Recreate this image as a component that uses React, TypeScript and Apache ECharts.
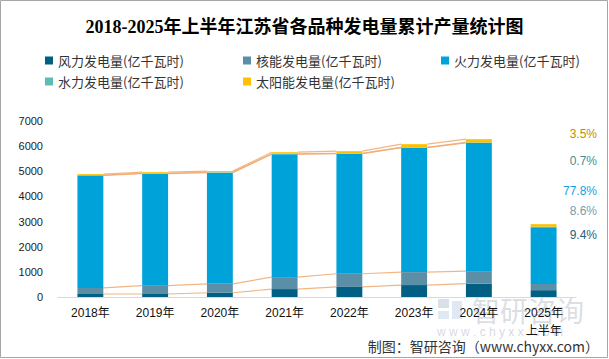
import React, { useEffect, useRef } from "react";
import * as echarts from "echarts";

const categories = ["2018年", "2019年", "2020年", "2021年", "2022年", "2023年", "2024年", "2025年\n上半年"];
const seriesNames = [
  "风力发电量(亿千瓦时)",
  "核能发电量(亿千瓦时)",
  "火力发电量(亿千瓦时)",
  "水力发电量(亿千瓦时)",
  "太阳能发电量(亿千瓦时)",
];
const wind = [120, 120, 170, 315, 400, 475, 530, 272];
const nuclear = [240, 330, 355, 475, 525, 515, 500, 249];
const thermal = [4472, 4456, 4421, 4890, 4775, 4949, 5102, 2255];
const hydro = [15, 15, 15, 15, 15, 15, 15, 20];
const solar = [40, 45, 45, 65, 85, 125, 130, 101];
const yMin = 0;
const yMax = 7000;
const yInterval = 1000;

const colors = ["#005F83", "#5B8FA8", "#00A2DA", "#5BBDB4", "#FFC000"];
const pctColors = ["#1F5F80", "#7A9CAE", "#1A9FDA", "#3F8F96", "#BF8F00"];
const pctY = [235, 211, 191, 161, 134];

export default function App() {
  const ref = useRef<HTMLDivElement>(null);
  useEffect(() => {
    if (!ref.current) return;
    const chart = echarts.init(ref.current, undefined, { renderer: "svg" });
    const layers = [wind, nuclear, thermal, hydro, solar];
    const cum: number[][] = [];
    layers.forEach((arr, k) => {
      cum.push(arr.map((v, i) => v + (k > 0 ? cum[k - 1][i] : 0)));
    });
    const lineData: number[][] = [];
    cum.forEach((c) => {
      for (let i = 0; i < categories.length - 2; i++) lineData.push([i, c[i], c[i + 1]]);
    });
    const last = categories.length - 1;
    const total = layers.reduce((s, a) => s + a[last], 0);
    const pctTexts = layers.map((a, k) => ({
      type: "text",
      x: 597,
      y: pctY[k],
      style: {
        text: ((a[last] / total) * 100).toFixed(1) + "%",
        fill: pctColors[k],
        font: "12px 'Liberation Sans', sans-serif",
        textAlign: "right",
        textVerticalAlign: "middle",
      },
    }));
    const legendBase = {
      orient: "vertical",
      itemWidth: 8,
      itemHeight: 8,
      itemGap: 8,
      icon: "rect",
      textStyle: { fontSize: 13, color: "#333", fontFamily: "'Noto Sans CJK SC', sans-serif" },
      top: 49,
    };
    chart.setOption({
      animation: false,
      backgroundColor: "#fff",
      title: {
        text: "2018-2025年上半年江苏省各品种发电量累计产量统计图",
        left: "center",
        top: 13,
        textStyle: { fontSize: 18, fontWeight: "bold", color: "#000", fontFamily: "'Liberation Serif', 'Noto Sans CJK SC', serif" },
      },
      legend: [
        { ...legendBase, left: 40, data: [seriesNames[0], seriesNames[3]] },
        { ...legendBase, left: 238, data: [seriesNames[1], seriesNames[4]] },
        { ...legendBase, left: 436, data: [seriesNames[2]] },
      ],
      grid: { left: 58, right: 33, top: 121, bottom: 62 },
      xAxis: {
        type: "category",
        data: categories,
        axisLine: { lineStyle: { color: "#D9D9D9", width: 1 } },
        axisTick: { show: false },
        axisLabel: { fontSize: 12, color: "#111", lineHeight: 18, margin: 7, fontFamily: "'Liberation Sans', 'Noto Sans CJK SC', sans-serif" },
      },
      yAxis: {
        type: "value",
        min: yMin,
        max: yMax,
        interval: yInterval,
        splitLine: { show: false },
        axisLine: { show: false },
        axisTick: { show: false },
        axisLabel: {
          fontSize: 11,
          color: "#222",
          margin: 15,
          fontFamily: "'Liberation Sans', sans-serif",
          formatter: (v: number) => String(v),
        },
      },
      series: [
        ...layers.map((arr, k) => ({
          name: seriesNames[k],
          type: "bar",
          stack: "total",
          barWidth: "40%",
          data: arr,
          itemStyle: { color: colors[k] },
        })),
        {
          type: "custom",
          silent: true,
          data: lineData,
          renderItem: (params: any, api: any) => {
            const i = api.value(0);
            const p1 = api.coord([i, api.value(1)]);
            const p2 = api.coord([i + 1, api.value(2)]);
            const hw = api.size([1, 0])[0] * 0.2;
            return {
              type: "line",
              shape: { x1: p1[0] + hw, y1: p1[1], x2: p2[0] - hw, y2: p2[1] },
              style: { stroke: "#F0A96E", lineWidth: 1.2, opacity: 0.85 },
            };
          },
        },
      ],
      graphic: [
        ...pctTexts,
        {
          type: "rect",
          shape: { x: 0.5, y: 0.5, width: 607, height: 357 },
          style: { fill: "none", stroke: "#A6A6A6", lineWidth: 1 },
          silent: true,
        },
        {
          type: "group",
          silent: true,
          children: [
            { type: "rect", shape: { x: 438, y: 299, width: 11, height: 9 }, style: { fill: "rgba(150,165,190,0.35)" } },
            { type: "rect", shape: { x: 438, y: 311, width: 11, height: 8 }, style: { fill: "rgba(150,180,215,0.3)" } },
            { type: "rect", shape: { x: 452, y: 301, width: 10, height: 18 }, style: { fill: "rgba(150,180,215,0.3)" } },
            {
              type: "text",
              x: 472,
              y: 310,
              style: { text: "智研咨询", font: "28px 'Noto Sans CJK SC'", fill: "rgba(160,170,185,0.4)", textVerticalAlign: "middle" },
            },
            {
              type: "text",
              x: 437,
              y: 332,
              style: { text: "w w w . c h y x x . c o m", font: "12px 'Liberation Sans'", fill: "rgba(160,170,185,0.45)", textVerticalAlign: "middle" },
            },
          ],
        },
        {
          type: "text",
          right: 10,
          top: 339,
          style: { text: "制图：智研咨询（www.chyxx.com）", font: "14px 'Noto Sans CJK SC', sans-serif", fill: "#333" },
        },
      ],
    });
    return () => chart.dispose();
  }, []);
  return <div ref={ref} style={{ position: "fixed", left: 0, top: 0, width: 609, height: 359 }} />;
}
